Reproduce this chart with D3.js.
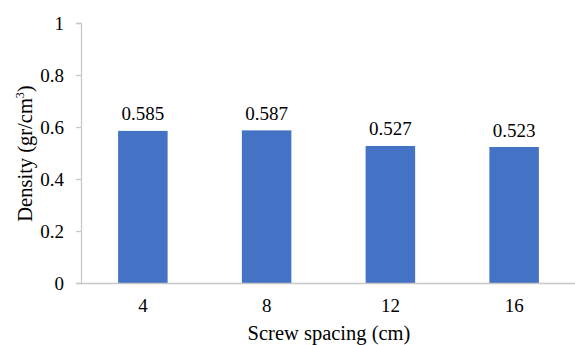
<!DOCTYPE html>
<html><head><meta charset="utf-8">
<script src="https://cdn.jsdelivr.net/npm/d3@7"></script>
<style>body{margin:0;background:#fff}svg{display:block}svg text{font-family:"Liberation Serif","Times New Roman",Times,serif !important}</style>
</head><body>
<svg id="c" width="575" height="345"></svg>
<script>
const categories = ["4", "8", "12", "16"];
const densityValues = [0.585, 0.587, 0.527, 0.523];
const yTicks = [0, 0.2, 0.4, 0.6, 0.8, 1];
const xTitle = "Screw spacing (cm)";

const svg = d3.select("#c");
const m = {left: 81, right: 576, top: 23, bottom: 283};
const x = d3.scaleBand().domain(categories).range([m.left, m.right]).paddingInner(0.6).paddingOuter(0.3);
const y = d3.scaleLinear().domain([0, 1]).range([m.bottom, m.top]);
const fs = 19;

// y axis
const ya = svg.append("g").attr("transform", `translate(${m.left},0)`)
  .call(d3.axisLeft(y).tickValues(yTicks).tickSize(5).tickPadding(12).tickFormat(d => d));
ya.selectAll("path,line").attr("stroke", "#c8c8c8").attr("stroke-width", 1.3);
ya.selectAll("text").attr("font-size", fs).attr("fill", "#000");

// bars
svg.selectAll("rect.bar").data(densityValues).join("rect").attr("class", "bar")
  .attr("x", (d, i) => x(categories[i])).attr("width", x.bandwidth())
  .attr("y", d => y(d)).attr("height", d => y(0) - y(d)).attr("fill", "#4472C4");

// labels
svg.selectAll("text.val").data(densityValues).join("text").attr("class", "val")
  .attr("x", (d, i) => x(categories[i]) + x.bandwidth() / 2).attr("y", d => y(d) - 10.5)
  .attr("text-anchor", "middle").attr("font-size", fs).attr("fill", "#000")
  .text(d => d3.format(".3f")(d));

// x axis
const xa = svg.append("g").attr("transform", `translate(0,${m.bottom})`)
  .call(d3.axisBottom(x).tickSize(0).tickPadding(16));
xa.selectAll("path").attr("stroke", "#c8c8c8").attr("stroke-width", 1.3);
xa.selectAll("text").attr("font-size", fs).attr("fill", "#000");

svg.append("text").attr("x", 329).attr("y", 340).attr("text-anchor", "middle")
  .attr("font-size", 20.5).attr("fill", "#000").text(xTitle);

const yt = svg.append("text").attr("transform", "translate(32,153.5) rotate(-90)").attr("text-anchor", "middle")
  .attr("font-size", 20.5).attr("fill", "#000");
yt.append("tspan").text("Density (gr/cm");
yt.append("tspan").attr("font-size", 12).attr("dy", -8).text("3");
yt.append("tspan").attr("dy", 8).text(")");
</script>
</body></html>
